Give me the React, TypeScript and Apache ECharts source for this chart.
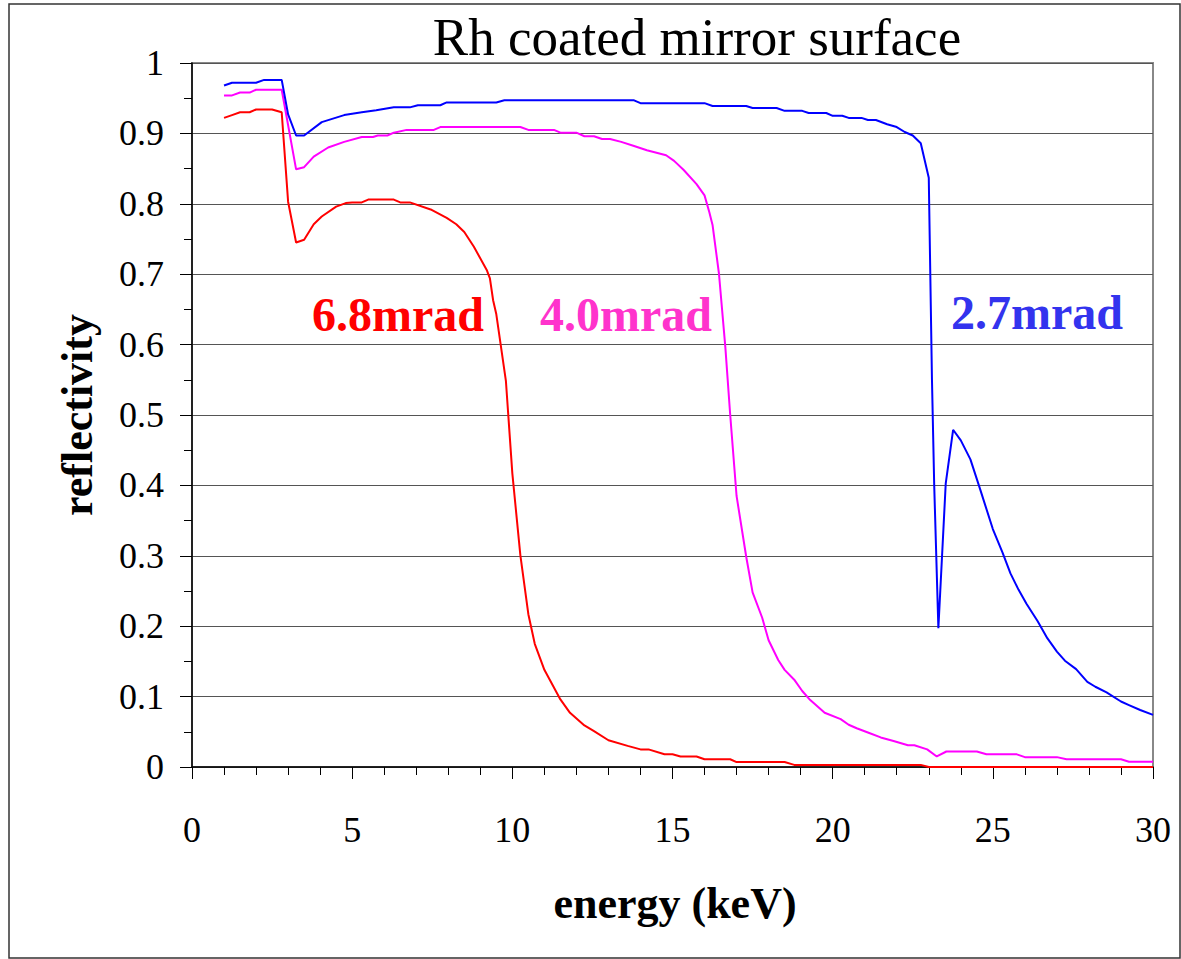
import React, { useEffect, useRef } from "react";
import * as echarts from "echarts";

const xTicks = [0, 5, 10, 15, 20, 25, 30];
const yTicks = [0, 0.1, 0.2, 0.3, 0.4, 0.5, 0.6, 0.7, 0.8, 0.9, 1];

const seriesNames = ["6.8mrad", "4.0mrad", "2.7mrad"];

const energy68 = [1.0, 1.25, 1.5, 1.8, 2.0, 2.5, 2.8, 3.0, 3.25, 3.5, 3.8, 4.05, 4.5, 4.8, 5.0, 5.3, 5.5, 6.3, 6.5, 6.8, 7.45, 7.95, 8.25, 8.5, 8.8, 9.2, 9.3, 9.4, 9.5, 9.8, 10.0, 10.25, 10.5, 10.7, 11.0, 11.5, 11.8, 12.25, 12.55, 13.0, 13.6, 14.0, 14.25, 14.75, 15.0, 15.25, 15.75, 16.0, 16.8, 17.0, 18.5, 18.8, 22.75, 23.0, 30.0];
const refl68 = [0.922, 0.926, 0.930, 0.930, 0.934, 0.934, 0.930, 0.803, 0.745, 0.749, 0.771, 0.782, 0.796, 0.801, 0.802, 0.802, 0.806, 0.806, 0.802, 0.802, 0.792, 0.780, 0.771, 0.760, 0.739, 0.706, 0.694, 0.663, 0.643, 0.548, 0.417, 0.301, 0.217, 0.175, 0.138, 0.096, 0.077, 0.059, 0.051, 0.038, 0.030, 0.025, 0.025, 0.018, 0.018, 0.015, 0.015, 0.011, 0.011, 0.007, 0.007, 0.003, 0.003, 0.0, 0.0];

const energy40 = [1.0, 1.25, 1.5, 1.8, 2.0, 2.8, 3.25, 3.5, 3.8, 4.25, 4.75, 5.3, 5.65, 5.8, 6.1, 6.3, 6.7, 7.55, 7.75, 10.25, 10.5, 11.3, 11.5, 12.0, 12.25, 12.55, 12.8, 13.05, 13.4, 13.8, 14.2, 14.8, 15.05, 15.35, 15.75, 16.0, 16.15, 16.25, 16.45, 16.65, 16.8, 17.0, 17.3, 17.5, 17.8, 18.0, 18.3, 18.5, 18.8, 19.05, 19.3, 19.75, 20.25, 20.5, 20.75, 21.1, 21.5, 21.9, 22.35, 22.55, 22.95, 23.25, 23.55, 24.5, 24.8, 25.75, 26.0, 27.0, 27.3, 29.0, 29.25, 30.0];
const refl40 = [0.954, 0.954, 0.958, 0.958, 0.962, 0.962, 0.849, 0.852, 0.867, 0.880, 0.888, 0.895, 0.895, 0.897, 0.897, 0.901, 0.905, 0.905, 0.909, 0.909, 0.905, 0.905, 0.901, 0.901, 0.896, 0.896, 0.892, 0.892, 0.888, 0.882, 0.876, 0.869, 0.861, 0.848, 0.828, 0.812, 0.788, 0.770, 0.701, 0.596, 0.501, 0.385, 0.299, 0.248, 0.212, 0.180, 0.152, 0.138, 0.124, 0.108, 0.095, 0.077, 0.068, 0.060, 0.055, 0.049, 0.042, 0.037, 0.031, 0.031, 0.025, 0.015, 0.022, 0.022, 0.018, 0.018, 0.014, 0.014, 0.011, 0.011, 0.0075, 0.0075];

const energy27 = [1.0, 1.25, 2.0, 2.25, 2.8, 3.0, 3.25, 3.5, 4.05, 4.75, 5.3, 5.75, 6.3, 6.8, 7.05, 7.75, 7.95, 9.5, 9.75, 13.8, 14.0, 16.0, 16.25, 17.3, 17.5, 18.25, 18.5, 19.05, 19.25, 19.8, 20.0, 20.3, 20.5, 20.9, 21.1, 21.35, 21.7, 22.0, 22.25, 22.5, 22.75, 23.0, 23.1, 23.17, 23.3, 23.53, 23.76, 24.0, 24.3, 24.6, 25.0, 25.3, 25.55, 25.8, 26.05, 26.4, 26.7, 27.0, 27.25, 27.6, 27.95, 28.2, 28.55, 29.0, 29.25, 29.6, 30.0];
const refl27 = [0.968, 0.972, 0.972, 0.976, 0.976, 0.927, 0.897, 0.897, 0.916, 0.926, 0.930, 0.933, 0.937, 0.937, 0.940, 0.940, 0.944, 0.944, 0.947, 0.947, 0.943, 0.943, 0.939, 0.939, 0.936, 0.936, 0.932, 0.932, 0.929, 0.929, 0.925, 0.925, 0.922, 0.922, 0.919, 0.919, 0.913, 0.909, 0.902, 0.897, 0.886, 0.837, 0.55, 0.40, 0.197, 0.403, 0.479, 0.464, 0.437, 0.395, 0.338, 0.305, 0.275, 0.252, 0.232, 0.207, 0.183, 0.164, 0.151, 0.139, 0.121, 0.114, 0.106, 0.093, 0.088, 0.081, 0.074];

const pairs = (xs: number[], ys: number[]) => xs.map((x, i) => [x, ys[i]]);

const SERIF = "Liberation Serif";

export default function App() {
  const ref = useRef<HTMLDivElement>(null);
  useEffect(() => {
    if (!ref.current) return;
    const chart = echarts.init(ref.current, null, { renderer: "svg" });
    const hiddenAxisBase = {
      type: "value" as const,
      axisLine: { show: false },
      axisLabel: { show: false },
      splitLine: { show: false },
    };
    const txt = (
      text: string,
      x: number,
      y: number,
      size: number,
      weight: string,
      color: string,
      align: string,
      rotation = 0
    ) => ({
      type: "text",
      x,
      y,
      rotation,
      style: {
        text,
        fontFamily: SERIF,
        fontSize: size,
        fontWeight: weight,
        fill: color,
        textAlign: align,
        textVerticalAlign: "middle",
      },
    });
    chart.setOption({
      animation: false,
      backgroundColor: "#ffffff",
      grid: {
        left: 192,
        right: 28,
        top: 63,
        bottom: 192,
        show: true,
        borderColor: "#888888",
        borderWidth: 2,
        backgroundColor: "transparent",
      },
      xAxis: [
        {
          type: "value",
          min: xTicks[0],
          max: xTicks[xTicks.length - 1],
          interval: 5,
          axisLine: { show: true, onZero: false, lineStyle: { color: "#000", width: 1.5 } },
          axisTick: { show: true, inside: false, length: 12, lineStyle: { color: "#000", width: 1 } },
          axisLabel: {
            show: true,
            margin: 63,
            verticalAlign: "middle",
            fontFamily: SERIF,
            fontSize: 36,
            color: "#000",
          },
          splitLine: { show: false },
        },
        {
          ...hiddenAxisBase,
          min: 0,
          max: 30,
          interval: 1,
          axisTick: { show: true, inside: true, length: 8, lineStyle: { color: "#000", width: 1 } },
        },
        {
          ...hiddenAxisBase,
          min: 0,
          max: 30,
          interval: 5,
          axisTick: { show: true, inside: true, length: 12, lineStyle: { color: "#000", width: 1 } },
        },
      ],
      yAxis: [
        {
          type: "value",
          min: yTicks[0],
          max: yTicks[yTicks.length - 1],
          interval: 0.1,
          axisLine: { show: true, onZero: false, lineStyle: { color: "#000", width: 1.5 } },
          axisTick: { show: true, inside: false, length: 12, lineStyle: { color: "#000", width: 1 } },
          axisLabel: {
            show: true,
            margin: 28,
            fontFamily: SERIF,
            fontSize: 36,
            color: "#000",
            formatter: (v: number) => String(Math.round(v * 10) / 10),
          },
          splitLine: { show: true, lineStyle: { color: "#555555", width: 1 } },
        },
        {
          ...hiddenAxisBase,
          min: 0,
          max: 1,
          interval: 0.05,
          axisTick: { show: true, inside: true, length: 8, lineStyle: { color: "#000", width: 1 } },
        },
      ],
      series: [
        {
          name: seriesNames[0],
          type: "line",
          showSymbol: false,
          symbol: "none",
          data: pairs(energy68, refl68),
          lineStyle: { color: "#ff0000", width: 2 },
          itemStyle: { color: "#ff0000" },
          z: 3,
        },
        {
          name: seriesNames[1],
          type: "line",
          showSymbol: false,
          symbol: "none",
          data: pairs(energy40, refl40),
          lineStyle: { color: "#ff00ff", width: 2 },
          itemStyle: { color: "#ff00ff" },
          z: 4,
        },
        {
          name: seriesNames[2],
          type: "line",
          showSymbol: false,
          symbol: "none",
          data: pairs(energy27, refl27),
          lineStyle: { color: "#0000ff", width: 2 },
          itemStyle: { color: "#0000ff" },
          z: 5,
        },
      ],
      graphic: [
        {
          type: "rect",
          shape: { x: 9, y: 4, width: 1171, height: 954 },
          style: { fill: "none", stroke: "#333", lineWidth: 1.5 },
          silent: true,
          z: -1,
        },
        txt("Rh coated mirror surface", 697, 37, 53, "normal", "#000", "center"),
        txt("reflectivity", 77, 415, 44, "bold", "#000", "center", Math.PI / 2),
        txt("energy (keV)", 675, 903, 44, "bold", "#000", "center"),
        txt(seriesNames[0], 312, 314, 48, "bold", "#ff0000", "left"),
        txt(seriesNames[1], 540, 314, 48, "bold", "#ff33cc", "left"),
        txt(seriesNames[2], 951, 312, 48, "bold", "#3333ee", "left"),
      ],
    });
    return () => chart.dispose();
  }, []);
  return (
    <div
      ref={ref}
      style={{ position: "fixed", left: 0, top: 0, width: 1181, height: 959, background: "#fff" }}
    />
  );
}
